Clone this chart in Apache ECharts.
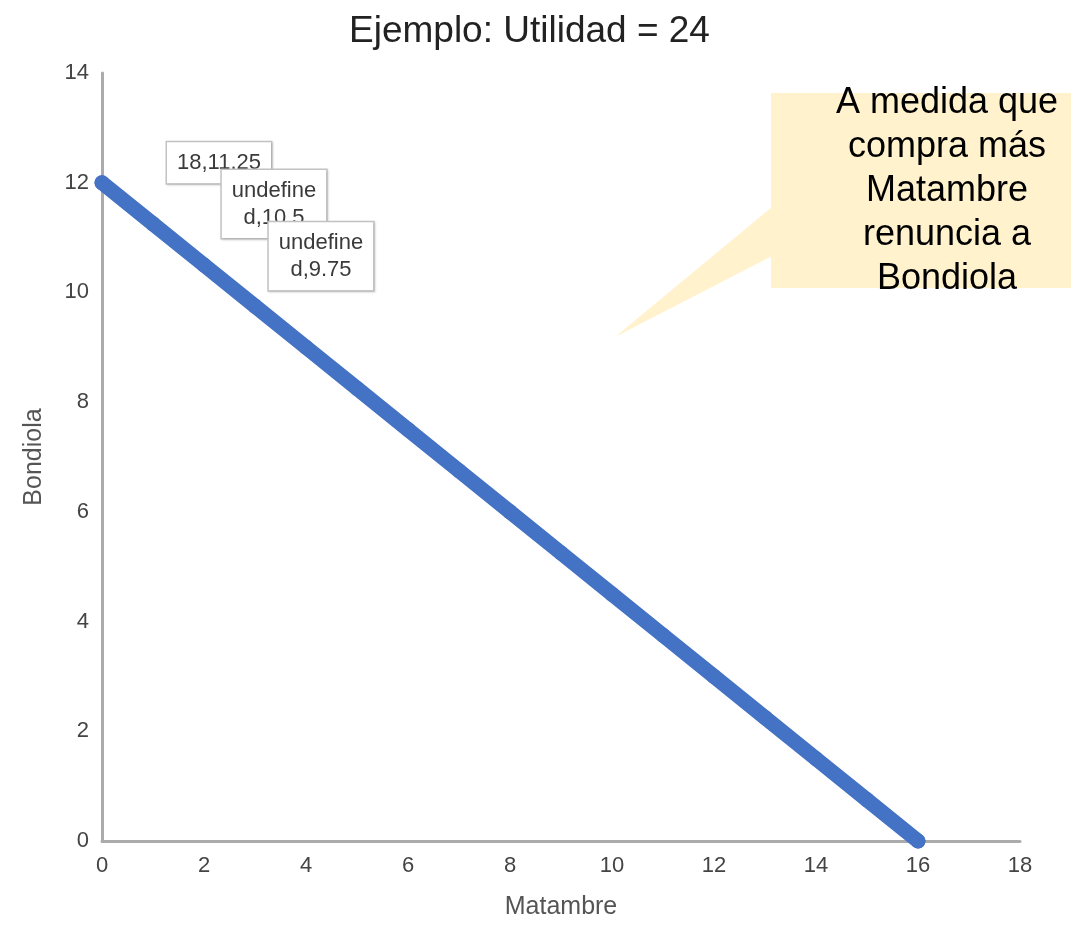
<!DOCTYPE html>
<html>
<head>
<meta charset="utf-8">
<title>Ejemplo: Utilidad = 24</title>
<script src="https://cdn.jsdelivr.net/npm/echarts@6/dist/echarts.min.js"></script>
<style>
  html, body { margin: 0; padding: 0; background: #ffffff; }
  #chart { width: 1071px; height: 925px; }
</style>
</head>
<body>
<div id="chart"></div>
<script>
// Budget line: Bondiola given up as more Matambre is bought
const matambre = [0, 1, 2, 3, 4, 5, 6, 7, 8, 9, 10, 11, 12, 13, 14, 15, 16];
const bondiola = [12, 11.25, 10.5, 9.75, 9, 8.25, 7.5, 6.75, 6, 5.25, 4.5, 3.75, 3, 2.25, 1.5, 0.75, 0];

// Point annotations (index into the series -> text)
const pointLabelIndex = [1, 2, 3];
const pointLabelText = ['18,11.25', 'undefine\nd,10.5', 'undefine\nd,9.75'];

const xTicks = { min: 0, max: 18, interval: 2 };
const yTicks = { min: 0, max: 14, interval: 2 };

const titleText = 'Ejemplo: Utilidad = 24';
const xName = 'Matambre';
const yName = 'Bondiola';
const calloutLines = ['A medida que', 'compra más', 'Matambre', 'renuncia a', 'Bondiola'];

const FONT = '"Liberation Sans", Arial, sans-serif';
const labelOffsets = [[66, -61], [70, -61], [66, -50]];

const seriesData = matambre.map((x, i) => {
  const item = { value: [x, bondiola[i]] };
  const k = pointLabelIndex.indexOf(i);
  if (k >= 0) {
    item.label = {
      show: true,
      position: 'inside',
      offset: labelOffsets[k],
      formatter: pointLabelText[k],
      fontFamily: FONT,
      fontSize: 22,
      lineHeight: 27,
      color: '#3a3a3a',
      align: 'center',
      backgroundColor: '#ffffff',
      borderColor: '#c4c4c4',
      borderWidth: 1.5,
      padding: [7, 10],
      shadowColor: 'rgba(0,0,0,0.12)',
      shadowBlur: 2,
      shadowOffsetX: 1,
      shadowOffsetY: 1
    };
  }
  return item;
});

const chart = echarts.init(document.getElementById('chart'), null, { renderer: 'canvas' });

chart.setOption({
  backgroundColor: '#ffffff',
  animation: false,
  title: {
    text: titleText,
    left: 344,
    top: 8,
    textStyle: { fontFamily: FONT, fontSize: 37, fontWeight: 'normal', color: '#222222' }
  },
  grid: { left: 102, right: 51, top: 73, bottom: 82, containLabel: false },
  xAxis: {
    type: 'value',
    min: xTicks.min, max: xTicks.max, interval: xTicks.interval,
    name: xName,
    nameLocation: 'middle',
    nameGap: 54,
    nameTextStyle: { fontFamily: FONT, fontSize: 25, color: '#555555' },
    axisLine: { show: true, onZero: false, lineStyle: { color: '#ababab', width: 3 } },
    axisTick: { show: false },
    splitLine: { show: false },
    axisLabel: { fontFamily: FONT, fontSize: 22, color: '#444444', margin: 14 }
  },
  yAxis: {
    type: 'value',
    min: yTicks.min, max: yTicks.max, interval: yTicks.interval,
    name: yName,
    nameLocation: 'middle',
    nameGap: 55,
    nameRotate: 90,
    nameTextStyle: { fontFamily: FONT, fontSize: 25, color: '#555555' },
    axisLine: { show: true, onZero: false, lineStyle: { color: '#ababab', width: 3 } },
    axisTick: { show: false },
    splitLine: { show: false },
    axisLabel: { fontFamily: FONT, fontSize: 22, color: '#444444', margin: 13 }
  },
  series: [{
    type: 'line',
    data: seriesData,
    showSymbol: true,
    symbol: 'circle',
    symbolSize: 15,
    clip: false,
    itemStyle: { color: '#4472c4' },
    lineStyle: { color: '#4472c4', width: 15, cap: 'round', join: 'round' },
    z: 3
  }],
  graphic: [
    {
      type: 'polygon',
      z: 10,
      shape: { points: [[772, 207], [615, 337], [772, 256]] },
      style: { fill: '#fff2cc' }
    },
    {
      type: 'rect',
      z: 10,
      shape: { x: 771, y: 93, width: 300, height: 195 },
      style: { fill: '#fff2cc' }
    },
    {
      type: 'text',
      z: 11,
      x: 947,
      y: 191,
      style: {
        text: calloutLines.join('\n'),
        font: '36px ' + FONT,
        fill: '#000000',
        align: 'center',
        verticalAlign: 'middle',
        lineHeight: 44
      }
    }
  ]
});
</script>
</body>
</html>
